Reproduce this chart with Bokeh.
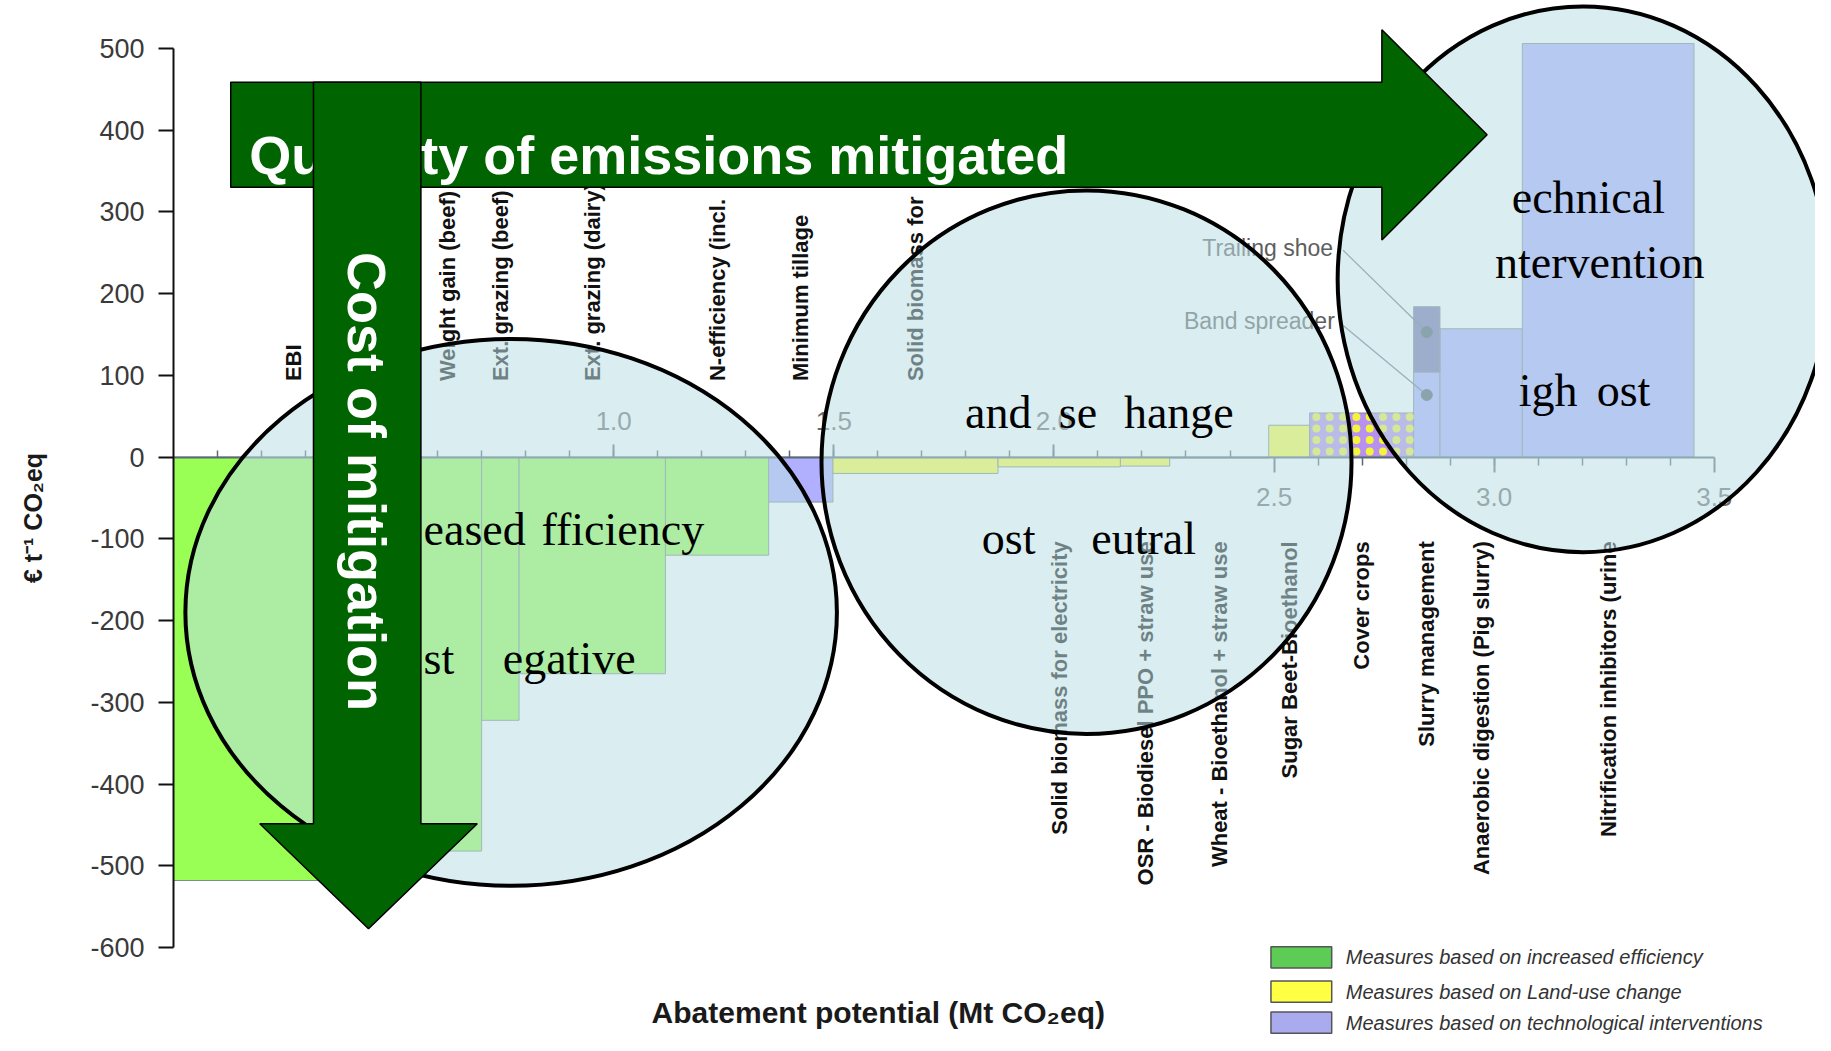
import numpy as np
from bokeh.plotting import figure
from bokeh.models import Range1d, LinearAxis, FixedTicker, NumeralTickFormatter
from bokeh.core.properties import value
from bokeh.embed import file_html
from bokeh.resources import INLINE

# ---------------- data ----------------
measures = ["EBI", "Weight gain (beef)", "Ext. grazing (beef)", "Ext. grazing (dairy)",
            "N-efficiency (incl.", "Minimum tillage", "Solid biomass for",
            "Solid biomass for electricity", "OSR - Biodiesel PPO + straw use",
            "Wheat - Bioethanol + straw use", "Sugar Beet-Bioethanol", "Cover crops",
            "Slurry management", "Anaerobic digestion (Pig slurry)",
            "Nitrification inhibitors (urine"]
abatement = [0.544, 0.156, 0.085, 0.3325, 0.2345, 0.146, 0.375, 0.278, 0.112, 0.225,
             0.093, 0.236, 0.060, 0.187, 0.390]
cost = [-518, -482, -322, -265, -120, -55, -20, -12, -11, -1, 39, 54, 104, 157, 506]
group = ["eff", "eff", "eff", "eff", "eff", "tech", "land", "land", "land", "land",
         "land", "cover", "tech", "tech", "tech"]
n_labels_top = 7

slurry_index = 12
slurry_trailing_total = 184
dot_labels = ["Band spreader", "Trailing shoe"]
dot_cost = [76, 153]

legend_labels = ["Measures based on increased efficiency",
                 "Measures based on Land-use change",
                 "Measures based on technological interventions"]
legend_colors = ["#5ccc55", "#ffff44", "#aaaaee"]

y_ticks = [-600, -500, -400, -300, -200, -100, 0, 100, 200, 300, 400, 500]
x_ticks_left = [0.5, 1.0, 1.5, 2.0]
x_ticks_right = [2.5, 3.0, 3.5]

colors = {"eff": "#99ff55", "tech": "#b0b0ff", "land": "#ffff44", "cover": "#b890f0"}

# ---------------- figure ----------------
p = figure(width=1815, height=1035, x_range=Range1d(0, 3.730), y_range=Range1d(-707.6, 558.6),
           output_backend="svg", toolbar_location=None, x_axis_location=None,
           min_border_left=173, min_border_right=0, min_border_top=0, min_border_bottom=0)
p.outline_line_color = None
p.grid.visible = False
p.background_fill_color = "white"
p.border_fill_color = "white"

right = list(np.cumsum(abatement))
left = [r - w for r, w in zip(right, abatement)]
centers = [(l + r) / 2 for l, r in zip(left, right)]

# plain bars
idx = [i for i in range(len(cost)) if group[i] != "cover"]
p.quad(left=[left[i] for i in idx], right=[right[i] for i in idx],
       bottom=[min(cost[i], 0) for i in idx], top=[max(cost[i], 0) for i in idx],
       fill_color=[colors[group[i]] for i in idx], line_color="#7d8c8c", line_width=1)
# slurry upper (trailing shoe) part
p.quad(left=[left[slurry_index]], right=[right[slurry_index]],
       bottom=[cost[slurry_index]], top=[slurry_trailing_total],
       fill_color="#7973af", line_color="#7d8c8c", line_width=1)
# cover crops: purple with yellow dot texture
ci = group.index("cover")
p.quad(left=[left[ci]], right=[right[ci]], bottom=[0], top=[cost[ci]],
       fill_color=colors["cover"], line_color="#7d8c8c", line_width=1)
dot_dx, dot_dy = 0.0303, 14.0
gx, gy = np.meshgrid(np.arange(left[ci] + dot_dx / 2, right[ci], dot_dx),
                     np.arange(dot_dy / 2, cost[ci], dot_dy))
p.scatter(x=gx.ravel(), y=gy.ravel(), size=8, fill_color="#f4f43a", line_color=None)

# measure labels
p.text(x=centers[:n_labels_top], y=[93] * n_labels_top, text=measures[:n_labels_top],
       angle=np.pi / 2, text_align="left", text_baseline="middle",
       text_font=value("Liberation Sans"), text_font_style="bold",
       text_font_size="22px", text_color="#111111")
nb = len(measures) - n_labels_top
p.text(x=centers[n_labels_top:], y=[-103] * nb, text=measures[n_labels_top:],
       angle=np.pi / 2, text_align="right", text_baseline="middle",
       text_font=value("Liberation Sans"), text_font_style="bold",
       text_font_size="22px", text_color="#111111")

# slurry annotations
sx = centers[slurry_index]
p.segment(x0=[2.657, 2.657], y0=[161, 253], x1=[sx, sx], y1=dot_cost,
          line_color="#6b7684", line_width=1.2)
p.scatter(x=[sx, sx], y=dot_cost, size=11, fill_color="#4f5d6b", line_color="#4f5d6b")
p.text(x=[2.638, 2.634], y=[167, 256], text=dot_labels, text_align="right",
       text_baseline="middle", text_font=value("Liberation Sans"),
       text_font_size="23px", text_color="#5e5e5e")

# ---------------- axes ----------------
ya = p.yaxis[0]
ya.ticker = FixedTicker(ticks=y_ticks, minor_ticks=[])
ya.major_label_overrides = {t: str(t) for t in y_ticks}
ya.bounds = (-600, 500)
ya.axis_line_width = 2
ya.axis_line_color = "#111111"
ya.major_tick_line_width = 2
ya.major_tick_line_color = "#111111"
ya.major_tick_out = 15
ya.major_tick_in = 0
ya.major_label_standoff = 14
ya.major_label_text_font = "Liberation Sans"
ya.major_label_text_font_size = "27px"
ya.major_label_text_color = "#3a3a3a"
ya.axis_label = "€ t⁻¹ CO₂eq"
ya.axis_label_text_font = "Liberation Sans"
ya.axis_label_text_font_style = "bold"
ya.axis_label_text_font_size = "25px"
ya.axis_label_text_color = "#1a1a1a"
ya.axis_label_standoff = 40

ax_top = LinearAxis(fixed_location=0, bounds=(0, 2.5),
                    ticker=FixedTicker(ticks=x_ticks_left,
                                       minor_ticks=[round(0.1 * i, 1) for i in range(1, 25)]),
                    formatter=NumeralTickFormatter(format="0.0"))
ax_bot = LinearAxis(fixed_location=0, bounds=(2.5, 3.5),
                    ticker=FixedTicker(ticks=x_ticks_right,
                                       minor_ticks=[round(0.1 * i, 1) for i in range(26, 35)]),
                    formatter=NumeralTickFormatter(format="0.0"))
for ax, mt, mn, so in [(ax_top, 13, 7, 14), (ax_bot, 15, 8, 16)]:
    ax.axis_line_color = "#5a6878"
    ax.axis_line_width = 2
    ax.major_tick_line_color = "#5a6878"
    ax.minor_tick_line_color = "#5a6878"
    ax.major_tick_line_width = 2
    ax.minor_tick_line_width = 1.5
    ax.major_tick_out = mt
    ax.major_tick_in = 0
    ax.minor_tick_out = mn
    ax.minor_tick_in = 0
    ax.major_label_standoff = so
    ax.major_label_text_font = "Liberation Sans"
    ax.major_label_text_font_size = "26px"
    ax.major_label_text_color = "#6a6a6a"
p.add_layout(ax_top, "above")
p.add_layout(ax_bot, "below")

p.text(x=[1.601], y=[-679], text=["Abatement potential (Mt CO₂eq)"], text_align="center",
       text_baseline="middle", text_font=value("Liberation Sans"), text_font_style="bold",
       text_font_size="30px", text_color="#1a1a1a")

# legend
lx0, lx1 = 2.493, 2.631
ly = [-612, -654, -692]
p.quad(left=[lx0] * 3, right=[lx1] * 3, bottom=[y - 13 for y in ly], top=[y + 13 for y in ly],
       fill_color=legend_colors, line_color="#555555", line_width=1.5)
p.text(x=[2.663] * 3, y=ly, text=legend_labels, text_align="left", text_baseline="middle",
       text_font=value("Liberation Sans"), text_font_style="italic", text_font_size="20px",
       text_color="#333333")

# ---------------- overlay ellipses ----------------
el = p.ellipse(x=[0.767, 2.074, 3.202], y=[-190, -6.2, 217.5], width=[1.480, 1.204, 1.115],
               height=[669, 665, 668], fill_color="#bcdee4", fill_alpha=0.55,
               line_color="black", line_width=4)
el.level = "annotation"

# ---------------- arrows ----------------
harrow = p.patch(x=[0.130, 0.130, 2.745, 2.745, 2.984, 2.745, 2.745],
                 y=[330, 458.6, 458.6, 522.9, 394.3, 265.7, 330],
                 fill_color="#006400", line_color="black", line_width=1.5)
harrow.level = "overlay"
ht = p.text(x=[0.172], y=[369], text=["Quantity of emissions mitigated"], text_align="left",
            text_baseline="alphabetic", text_font=value("Liberation Sans"),
            text_font_style="bold", text_font_size="54px", text_color="white")
ht.level = "overlay"
varrow = p.patch(x=[0.318, 0.562, 0.562, 0.690, 0.443, 0.196, 0.318],
                 y=[458.6, 458.6, -448.6, -448.6, -577, -448.6, -448.6],
                 fill_color="#006400", line_color="black", line_width=1.5)
varrow.level = "overlay"
vt = p.text(x=[0.44], y=[251], text=["Cost of mitigation"], angle=-np.pi / 2,
            text_align="left", text_baseline="middle", text_font=value("Liberation Sans"),
            text_font_style="bold", text_font_size="54px", text_color="white")
vt.level = "overlay"

# ellipse texts
words = ["eased", "fficiency", "st", "egative", "and", "se", "hange", "ost", "eutral",
         "echnical", "ntervention", "igh", "ost"]
wx = [0.568, 0.836, 0.568, 0.748, 1.798, 2.011, 2.159, 1.836, 2.085, 3.040, 3.002, 3.056, 3.233]
wy = [-89, -89, -246, -246, 55, 55, 55, -100, -100, 317, 238, 81, 81]
et = p.text(x=wx, y=wy, text=words, text_align="left", text_baseline="alphabetic",
            text_font=value("Liberation Serif"), text_font_size="46px", text_color="black")
et.level = "overlay"

open("out.html", "w").write(file_html(p, INLINE))
